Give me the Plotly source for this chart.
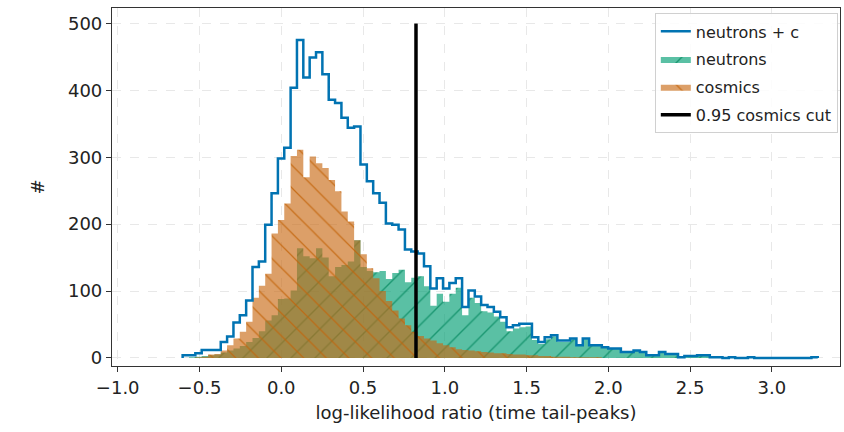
import numpy as np
import plotly.graph_objects as go

# ---- data ----
bin_lo, bin_hi, n_bins = -0.603, 3.281, 100

total = [4, 4, 7, 12, 12, 12, 24, 32, 53, 64,
         86, 136, 144, 199, 246, 298, 314, 404, 475, 419,
         449, 457, 424, 386, 381, 359, 344, 346, 289, 264,
         246, 232, 201, 199, 192, 162, 159, 156, 137, 104,
         119, 104, 112, 119, 76, 101, 92, 79, 76, 69,
         61, 46, 49, 51, 51, 31, 24, 31, 34, 26,
         26, 29, 19, 29, 19, 19, 16, 14, 14, 9,
         9, 11, 9, 4, 4, 9, 6, 6, 1, 3,
         3, 4, 4, 1, 1, 0, 1, 0, 0, 1,
         0, 0, 0, 0, 0, 0, 0, 0, 0, 1]

cosmics = [0, 0, 1, 2, 5, 6, 11, 19, 29, 39,
           54, 90, 108, 126, 186, 206, 231, 302, 311, 270,
           301, 291, 284, 266, 249, 219, 204, 176, 155, 134,
           119, 100, 85, 71, 59, 49, 39, 33, 29, 26,
           22, 19, 16, 13, 12, 11, 10, 9, 8, 7,
           7, 6, 5, 5, 4, 4, 3, 3, 2, 2,
           2, 1, 1, 1, 1, 1, 0, 0, 0, 0,
           0, 0, 0, 0, 0, 0, 0, 0, 0, 0,
           0, 0, 0, 0, 0, 0, 0, 0, 0, 0,
           0, 0, 0, 0, 0, 0, 0, 0, 0, 0]

neutrons = [0, 1, 2, 3, 4, 5, 8, 11, 14, 18,
            24, 30, 40, 56, 64, 88, 89, 101, 164, 152,
            149, 164, 150, 122, 136, 139, 144, 176, 136, 130,
            128, 130, 118, 127, 132, 113, 120, 122, 107, 78,
            96, 84, 96, 105, 64, 90, 82, 70, 68, 62,
            54, 40, 44, 46, 47, 27, 21, 28, 32, 24,
            24, 28, 18, 28, 18, 18, 16, 14, 14, 9,
            9, 11, 9, 4, 4, 9, 6, 6, 1, 3,
            3, 4, 4, 1, 1, 0, 1, 0, 0, 1,
            0, 0, 0, 0, 0, 0, 0, 0, 0, 1]

cut_value = 0.824
cut_height = 500

edges = np.linspace(bin_lo, bin_hi, n_bins + 1)


def step_xy(vals):
    xs = [edges[0]] + list(edges) + [edges[-1]]
    ys = [0] + list(vals) + [vals[-1], 0]
    return xs, ys


FONT = "DejaVu Sans"
TXT = "#222222"
fig = go.Figure()

xn, yn = step_xy(neutrons)
fig.add_trace(go.Scatter(
    x=xn, y=yn, mode="lines", line=dict(width=0, shape="hv", color="rgba(2,158,115,0.65)"),
    fill="tozeroy", fillcolor="rgba(2,158,115,0.65)",
    fillpattern=dict(shape="/", fgcolor="rgba(10,140,100,1)", fgopacity=0.8, size=17,
                     solidity=0.08, fillmode="overlay", bgcolor="rgba(2,158,115,0.65)"),
    name="neutrons", legendrank=2, legendgroup="g2"))

xc, yc = step_xy(cosmics)
fig.add_trace(go.Scatter(
    x=xc, y=yc, mode="lines", line=dict(width=0, shape="hv", color="rgba(200,105,18,0.64)"),
    fill="tozeroy", fillcolor="rgba(200,105,18,0.64)",
    fillpattern=dict(shape="\\", fgcolor="rgba(195,100,10,1)", fgopacity=0.8, size=16,
                     solidity=0.08, fillmode="overlay", bgcolor="rgba(200,105,18,0.64)"),
    name="cosmics", legendrank=3, legendgroup="g3"))

xt, yt = step_xy(total)
fig.add_trace(go.Scatter(
    x=xt, y=yt, mode="lines", line=dict(width=2.5, shape="hv", color="#0173b2"),
    name="neutrons + c", legendrank=1, legendgroup="g1"))

fig.add_trace(go.Scatter(
    x=[cut_value, cut_value], y=[0, cut_height], mode="lines",
    line=dict(width=3.5, color="black"), name="0.95 cosmics cut", legendrank=4,
    legendgroup="g4"))

axis_common = dict(
    showline=True, linecolor="#333333", linewidth=1.2, mirror=True,
    ticks="outside", ticklen=5, tickwidth=1.2, tickcolor="#333333",
    showgrid=True, gridcolor="#e8e8e8", griddash="dash", gridwidth=1,
    zeroline=False, tickfont=dict(family=FONT, size=18, color=TXT),
)

fig.update_xaxes(range=[-1.035, 3.417], tickvals=[-1.0, -0.5, 0, 0.5, 1.0, 1.5, 2.0, 2.5, 3.0],
                 tickformat=".1f",
                 title=dict(text="log-likelihood ratio (time tail-peaks)",
                            font=dict(family=FONT, size=18, color=TXT), standoff=9),
                 **axis_common)
fig.update_yaxes(range=[-12, 523], tickvals=[0, 100, 200, 300, 400, 500],
                 title=dict(text="#", font=dict(family=FONT, size=18, color=TXT), standoff=18),
                 **axis_common)

fig.update_layout(
    width=844, height=432,
    margin=dict(l=112, r=4, t=8, b=66),
    plot_bgcolor="white", paper_bgcolor="white",
    font=dict(family=FONT),
    legend=dict(x=0.997, y=0.985, xanchor="right", yanchor="top",
                bgcolor="rgba(255,255,255,0.85)", bordercolor="#d0d0d0", borderwidth=1,
                font=dict(family=FONT, size=16, color=TXT), tracegroupgap=4,
                itemwidth=30),
    showlegend=True,
)

fig.write_html("out.html")
